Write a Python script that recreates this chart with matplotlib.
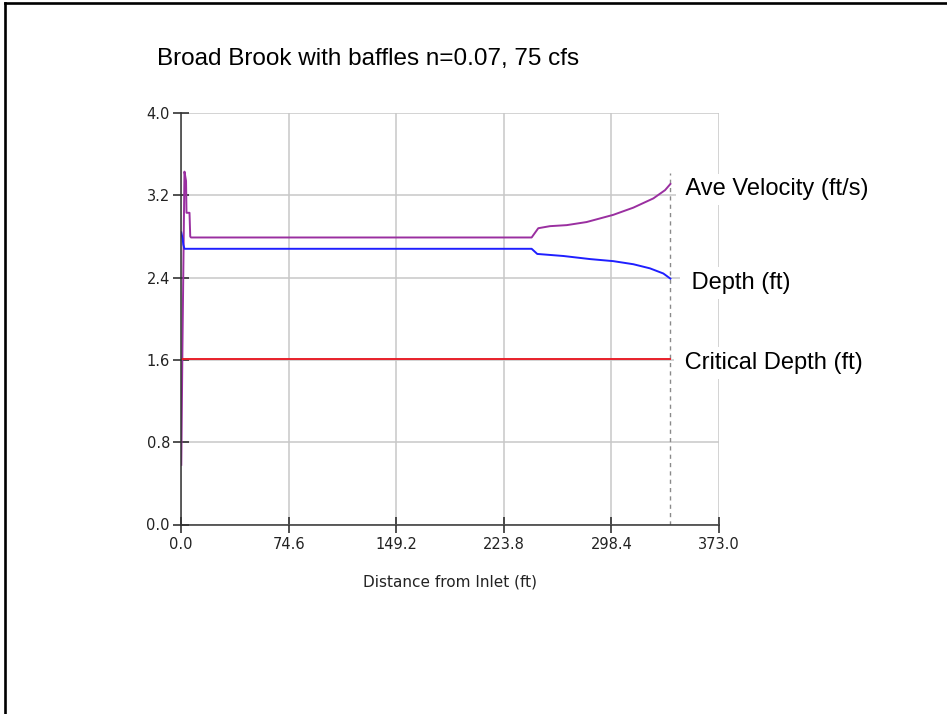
import numpy as np
import matplotlib
matplotlib.use('Agg')
import matplotlib.pyplot as plt
from matplotlib.lines import Line2D

"""Broad Brook culvert profile: velocity, depth and critical depth along the barrel"""

# distance from inlet (ft) and values
vel_x = [0.2, 1.0, 2.4, 3.5, 3.8, 5.9, 6.4, 6.9, 243.1, 247.7, 255.8, 267.4,
         281.2, 299.7, 313.6, 327.5, 335.6, 339.3]
vel_y = [0.58, 1.72, 3.43, 3.34, 3.03, 3.03, 2.80, 2.79, 2.79, 2.88, 2.90, 2.91,
         2.94, 3.01, 3.08, 3.17, 3.25, 3.31]

depth_x = [0.2, 1.2, 1.6, 2.4, 243.1, 247.0, 265.1, 283.6, 299.7, 313.6, 325.1,
           334.4, 339.3]
depth_y = [2.84, 2.77, 2.72, 2.68, 2.68, 2.63, 2.61, 2.58, 2.56, 2.53, 2.49,
           2.44, 2.39]

crit_x = [0.0, 339.3]
crit_y = [1.61, 1.61]

outlet_x = 339.3  # end of barrel, dashed marker

x_ticks = [0.0, 74.6, 149.2, 223.8, 298.4, 373.0]
y_ticks = [0.0, 0.8, 1.6, 2.4, 3.2, 4.0]

title = 'Broad Brook with baffles n=0.07, 75 cfs'
x_label = 'Distance from Inlet (ft)'
series_labels = ['Ave Velocity (ft/s)', 'Depth (ft)', 'Critical Depth (ft)']

W, H = 947, 714
fig = plt.figure(figsize=(W/100, H/100), dpi=100)
ax = fig.add_axes([181/W, 1-524.5/H, 538/W, (524.5-113)/H])

ax.plot(vel_x, vel_y, color='#9a2fa0', lw=1.4, zorder=4)
ax.plot(depth_x, depth_y, color='#1f1fff', lw=1.4, zorder=4)
ax.plot(crit_x, crit_y, color='#e8202a', lw=1.4, zorder=4)
ax.axvline(outlet_x, ymin=0, ymax=3.42/4.0, color='#8a8a8a', lw=1.0,
           dashes=(3, 3), zorder=3)

ax.set_xlim(0, 373.0)
ax.set_ylim(0, 4.0)
ax.set_xticks(x_ticks)
ax.set_yticks(y_ticks)
ax.set_xticklabels(['%.1f' % t for t in x_ticks])
ax.set_yticklabels(['%.1f' % t for t in y_ticks])
ax.grid(True, color='#c8c8c8', lw=1.1, zorder=0)
ax.set_axisbelow(True)

for s in ['top', 'right']:
    ax.spines[s].set_visible(False)
for s in ['left', 'bottom']:
    ax.spines[s].set_color('#333333')
    ax.spines[s].set_linewidth(1.1)
    ax.spines[s].set_zorder(5)

ax.tick_params(axis='both', direction='inout', length=12, width=1.1,
               color='#222222', labelsize=10.5, labelcolor='#222222')
ax.tick_params(axis='y', pad=2)
ax.tick_params(axis='x', pad=3)
for lab in ax.get_xticklabels() + ax.get_yticklabels():
    lab.set_family('DejaVu Sans')

ax.set_xlabel(x_label, fontsize=11, family='DejaVu Sans', color='#222222',
              labelpad=16.5)

# end-of-line labels, white boxes cut the right grid line like the original
lab_font = dict(fontsize=17, family='Liberation Sans', color='black')
box = dict(boxstyle='square,pad=0.2', fc='white', ec='none')
ax.text(350.8 - 4.5, 3.20, ' ' + series_labels[0], va='baseline', ha='left',
        clip_on=False, bbox=box, zorder=6, **lab_font)
ax.text(353.6 - 4.5, 2.29, ' ' + series_labels[1], va='baseline', ha='left',
        clip_on=False, bbox=box, zorder=6, **lab_font)
ax.text(349.4 - 4.5, 1.51, ' ' + series_labels[2], va='baseline', ha='left',
        clip_on=False, bbox=box, zorder=6, **lab_font)

fig.text(157/W, 1-65/H, title, ha='left', va='baseline', fontsize=17.5,
         family='Liberation Sans', color='black')

# frame of the original window, only top and left edges survive the crop
fig.add_artist(Line2D([4.7/W, 4.7/W], [0, 1-2.8/H], color='black', lw=1.9,
                      transform=fig.transFigure))
fig.add_artist(Line2D([4.7/W, 1], [1-2.8/H, 1-2.8/H], color='black', lw=1.9,
                      transform=fig.transFigure))

fig.savefig('out.png', dpi=100)
